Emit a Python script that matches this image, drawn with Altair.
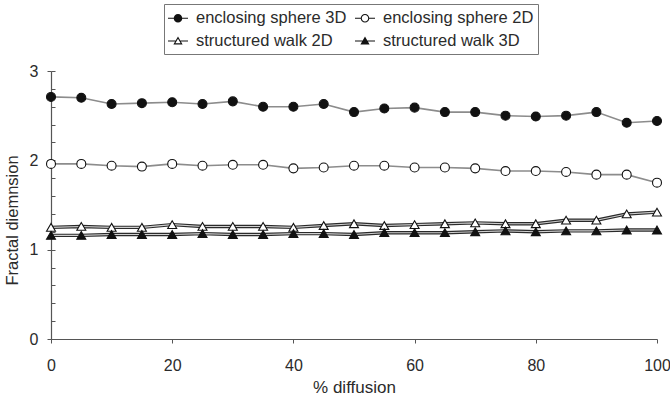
import altair as alt
import pandas as pd

# ---------------- data ----------------
x_pct = [0, 5, 10, 15, 20, 25, 30, 35, 40, 45, 50, 55, 60, 65, 70, 75, 80, 85, 90, 95, 100]
es3d = [2.71, 2.70, 2.63, 2.64, 2.65, 2.63, 2.66, 2.60, 2.60, 2.63, 2.54,
        2.58, 2.59, 2.54, 2.54, 2.50, 2.49, 2.50, 2.54, 2.42, 2.44]
es2d = [1.96, 1.96, 1.94, 1.93, 1.96, 1.94, 1.95, 1.95, 1.91, 1.92, 1.94,
        1.94, 1.92, 1.92, 1.91, 1.88, 1.88, 1.87, 1.84, 1.84, 1.75]
sw2d = [1.25, 1.26, 1.25, 1.25, 1.28, 1.26, 1.26, 1.26, 1.25, 1.27, 1.29,
        1.27, 1.28, 1.29, 1.30, 1.29, 1.29, 1.33, 1.33, 1.40, 1.42]
sw3d = [1.16, 1.16, 1.17, 1.17, 1.17, 1.18, 1.17, 1.17, 1.18, 1.18, 1.17,
        1.19, 1.19, 1.19, 1.20, 1.21, 1.20, 1.21, 1.21, 1.22, 1.22]

series = ["enclosing sphere 3D", "enclosing sphere 2D",
          "structured walk 2D", "structured walk 3D"]
marker_shapes = ["circle", "circle", "triangle-up", "triangle-up"]
marker_fills = ["#111111", "white", "white", "#111111"]

# legend entries flow column by column: this order gives the rows
# [es3D, es2D] / [sw2D, sw3D]
legend_order = ["enclosing sphere 3D", "structured walk 2D",
                "enclosing sphere 2D", "structured walk 3D"]
# legend glyphs (line + marker), drawn as filled outlines
BAR_C = "M-1,-0.055L-0.4,-0.055L-0.4,0.055L-1,0.055ZM0.4,-0.055L1,-0.055L1,0.055L0.4,0.055Z"
BAR_T = "M-1,-0.055L-0.25,-0.055L-0.25,0.055L-1,0.055ZM0.25,-0.055L1,-0.055L1,0.055L0.25,0.055Z"
DISK = "M0.43,0A0.43,0.43 0 1,1 -0.43,0A0.43,0.43 0 1,1 0.43,0Z"
RING_HOLE = "M0.32,0A0.32,0.32 0 1,0 -0.32,0A0.32,0.32 0 1,0 0.32,0Z"
TRI = "M0,-0.44L0.46,0.34L-0.46,0.34Z"
TRI_HOLE = "M0,-0.223L-0.267,0.23L0.267,0.23Z"
legend_paths = [
    BAR_C + DISK,               # enclosing sphere 3D
    BAR_T + TRI + TRI_HOLE,     # structured walk 2D
    BAR_C + DISK + RING_HOLE,   # enclosing sphere 2D
    BAR_T + TRI,                # structured walk 3D
]

x_ticks = [0, 20, 40, 60, 80, 100]
y_ticks = [0, 1, 2, 3]
y_minor = [0, 0.2, 0.4, 0.6, 0.8, 1, 1.2, 1.4, 1.6, 1.8, 2, 2.2, 2.4, 2.6, 2.8, 3]

rows = []
for name, vals in zip(series, [es3d, es2d, sw2d, sw3d]):
    for xv, yv in zip(x_pct, vals):
        rows.append({"pct": xv, "dim": yv, "series": name})
df = pd.DataFrame(rows)

FONT = "Liberation Sans"
AX = "#555555"
TXT = "#2b2b2b"
PLOT_W = 606
PLOT_H = 268

x_axis = alt.Axis(values=x_ticks, title="% diffusion", grid=False, tickSize=4,
                  labelPadding=14, labelFontSize=16, labelFont=FONT, labelColor=TXT,
                  titleFont=FONT, titleFontSize=17, titleFontWeight="normal",
                  titleColor=TXT, titleY=53, titleBaseline="alphabetic",
                  domainColor=AX, tickColor=AX, domainWidth=1.2, labelFlush=False)
X = alt.X("pct:Q", scale=alt.Scale(domain=[0, 100], nice=False, zero=False), axis=x_axis)
y_scale = alt.Scale(domain=[0, 3], nice=False)

y_main_axis = alt.Axis(values=y_ticks, title="Fractal diemnsion", grid=False, tickSize=4,
                       labelPadding=9, labelFontSize=16, labelFont=FONT, labelColor=TXT,
                       titleFont=FONT, titleFontSize=16.5, titleFontWeight="normal",
                       titleColor=TXT, titleX=-34, titleY=149, titleBaseline="alphabetic",
                       domainColor=AX, tickColor=AX, domainWidth=1.2, orient="left")
# inner minor ticks: a right-hand axis shifted onto the left edge
y_minor_axis = alt.Axis(values=y_minor, labels=False, domain=False, grid=False,
                        tickSize=4, offset=-PLOT_W, tickColor=AX, title=None,
                        orient="right")

base = alt.Chart(df)
is_es = alt.FieldOneOfPredicate(field="series", oneOf=series[:2])
is_sw = alt.FieldOneOfPredicate(field="series", oneOf=series[2:])

lines_es = base.transform_filter(is_es).mark_line(color="#8c8c8c", strokeWidth=1.6).encode(
    x=X, y=alt.Y("dim:Q", scale=y_scale, axis=y_main_axis), detail="series:N")
lines_sw_dark = base.transform_filter(is_sw).mark_line(color="#2a2a2a", strokeWidth=3.4).encode(
    x=X, y=alt.Y("dim:Q", scale=y_scale, axis=y_minor_axis), detail="series:N")
lines_sw_light = base.transform_filter(is_sw).mark_line(color="#cfcfcf", strokeWidth=1.1).encode(
    x=X, y=alt.Y("dim:Q", scale=y_scale, axis=None), detail="series:N")

points = base.mark_point(filled=True, stroke="#111111", strokeWidth=1.1, opacity=1, size=80).encode(
    x=X, y=alt.Y("dim:Q", scale=y_scale, axis=None),
    shape=alt.Shape("series:N", scale=alt.Scale(domain=series, range=marker_shapes), legend=None),
    fill=alt.Fill("series:N", scale=alt.Scale(domain=series, range=marker_fills), legend=None),
)

leg = alt.Legend(orient="none", legendX=113, legendY=-67, columns=2, title=None,
                 strokeColor="#777777", padding=4, rowPadding=4, columnPadding=8,
                 labelOffset=8, symbolSize=400, symbolStrokeWidth=0,
                 symbolFillColor="#111111", labelFontSize=16.5, labelFont=FONT,
                 labelColor=TXT, labelLimit=400)
legend_layer = base.transform_filter("false").mark_point(
    filled=True, color="#111111", opacity=1).encode(
    shape=alt.Shape("series:N", scale=alt.Scale(domain=legend_order, range=legend_paths),
                    legend=leg),
)

chart = alt.layer(lines_es, lines_sw_dark, lines_sw_light, points, legend_layer).resolve_scale(
    shape="independent", fill="independent"
).resolve_axis(y="independent").properties(
    width=PLOT_W, height=PLOT_H,
    autosize=alt.AutoSizeParams(type="none"),
    padding={"left": 51, "top": 71, "right": 13, "bottom": 63},
    background="white",
).configure_view(stroke=None)

chart.save("out.html", embed_options={"renderer": "svg", "actions": False})
